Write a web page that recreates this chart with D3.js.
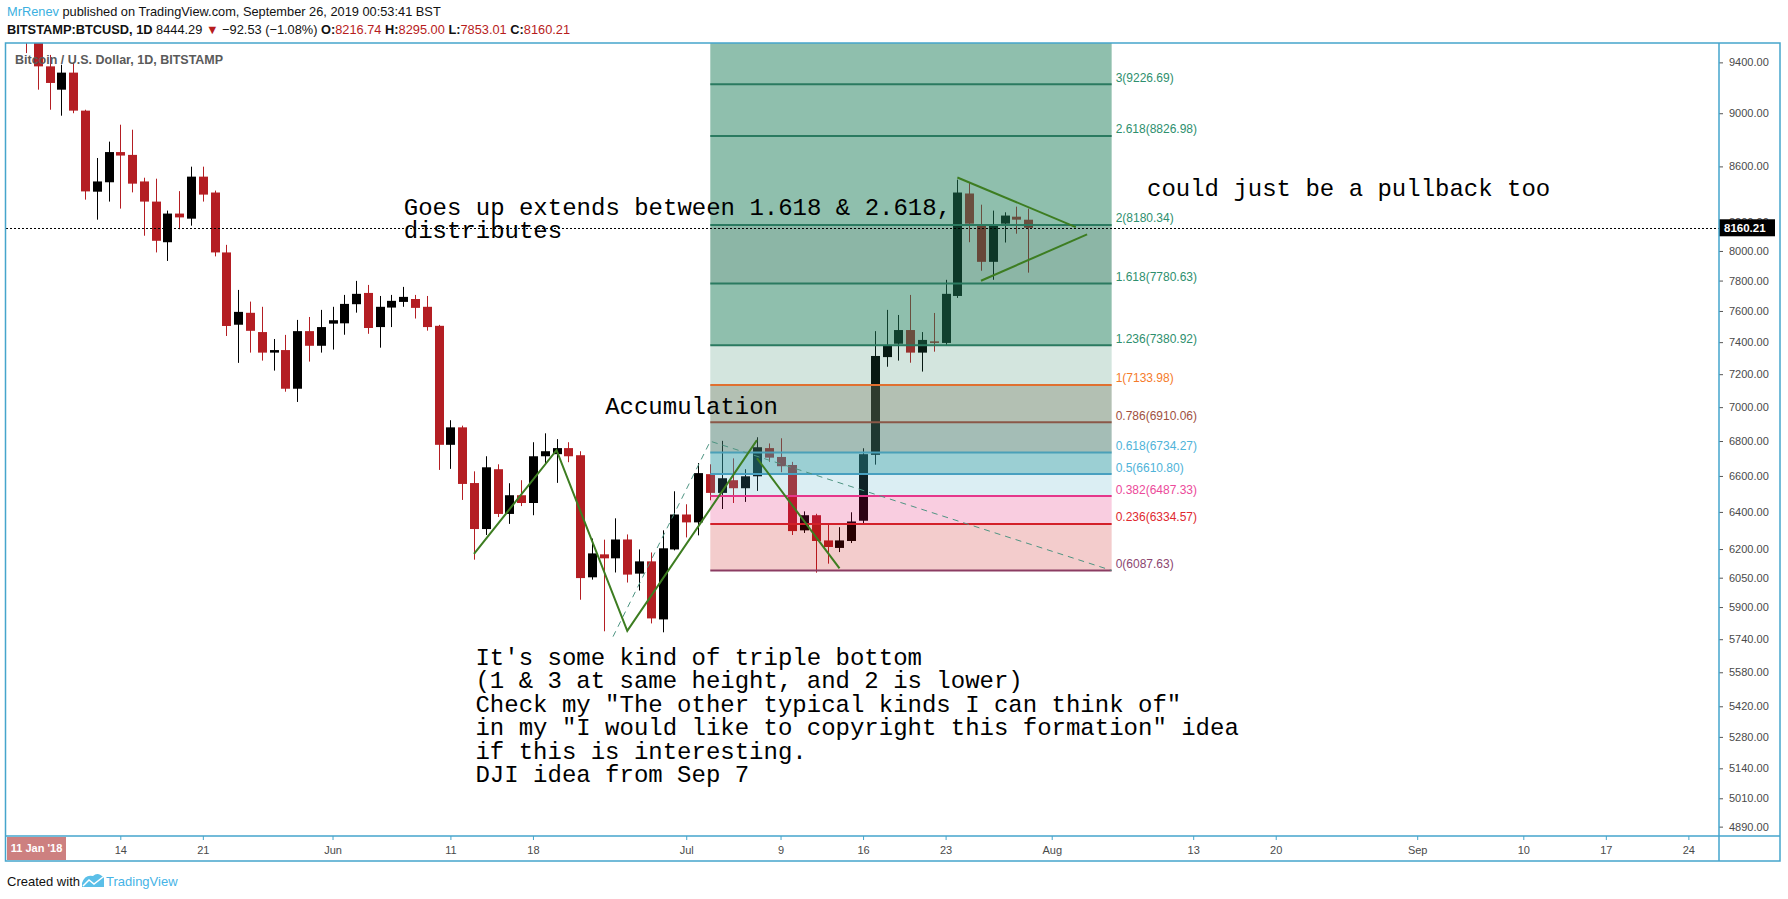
<!DOCTYPE html>
<html>
<head>
<meta charset="utf-8">
<script src="https://cdn.jsdelivr.net/npm/d3@7"></script>
<style>
  body { margin: 0; background: #fff; }
  svg { display: block; }
  .ui { font-family: "Liberation Sans", Arial, sans-serif; }
  .note { font-family: "Courier New", "Liberation Mono", monospace; font-size: 24px; fill: #000; }
</style>
</head>
<body>
<svg id="chart" width="1788" height="899"></svg>
<script>
// BTCUSD daily candles, Bitstamp, May - July 2018
const dates = [
  "2018-05-06","2018-05-07","2018-05-08","2018-05-09","2018-05-10","2018-05-11","2018-05-12","2018-05-13","2018-05-14","2018-05-15",
  "2018-05-16","2018-05-17","2018-05-18","2018-05-19","2018-05-20","2018-05-21","2018-05-22","2018-05-23","2018-05-24","2018-05-25",
  "2018-05-26","2018-05-27","2018-05-28","2018-05-29","2018-05-30","2018-05-31",
  "2018-06-01","2018-06-02","2018-06-03","2018-06-04","2018-06-05","2018-06-06","2018-06-07","2018-06-08","2018-06-09","2018-06-10",
  "2018-06-11","2018-06-12","2018-06-13","2018-06-14","2018-06-15","2018-06-16","2018-06-17","2018-06-18","2018-06-19","2018-06-20",
  "2018-06-21","2018-06-22","2018-06-23","2018-06-24","2018-06-25","2018-06-26","2018-06-27","2018-06-28","2018-06-29","2018-06-30",
  "2018-07-01","2018-07-02","2018-07-03","2018-07-04","2018-07-05","2018-07-06","2018-07-07","2018-07-08","2018-07-09","2018-07-10",
  "2018-07-11","2018-07-12","2018-07-13","2018-07-14","2018-07-15","2018-07-16","2018-07-17","2018-07-18","2018-07-19","2018-07-20",
  "2018-07-21","2018-07-22","2018-07-23","2018-07-24","2018-07-25","2018-07-26","2018-07-27","2018-07-28","2018-07-29","2018-07-30"
];
const open = [
  9700,9590,9368,9183,9318,9020,8416,8484,8706,8685, 8490,8345,8060,8260,8224,8525,8410,7990,7511,7588, 7464,7334,7350,7111,7470,7377,
  7518,7520,7644,7718,7496,7622,7659,7678,7627,7504, 6778,6880,6560,6307,6638,6389,6492,6449,6712,6724, 6759,6718,6052,6172,6151,6251,6071,6135,5838,6198,
  6386,6343,6610,6505,6576,6531,6598,6759,6708,6662, 6300,6382,6246,6206,6243,6352,6720,7306,7390,7477, 7334,7405,7395,7698,8403,8182,7926,8189,8238,8216.74
];
const high = [
  9760,9680,9460,9381,9400,9027,8662,8784,8912,8874, 8517,8510,8281,8420,8598,8598,8424,8042,7738,7661, 7627,7420,7446,7542,7561,7607,
  7627,7705,7798,7771,7698,7705,7758,7705,7698,7510, 6922,6890,6626,6712,6666,6559,6576,6793,6845,6811, 6793,6741,6256,6250,6365,6278,6198,6182,6300,6514,
  6442,6673,6666,6801,6700,6638,6822,6786,6816,6680, 6403,6390,6337,6317,6398,6758,7470,7607,7574,7705, 7464,7587,7805,8503,8483,8323,8281,8269,8309,8295.00
];
const low = [
  9475,9183,9027,8981,9000,8359,8217,8345,8295,8411, 8105,7990,7932,8150,8175,8345,7963,7439,7270,7334, 7284,7222,7093,7031,7278,7334,
  7353,7447,7589,7453,7365,7496,7627,7551,7473,6634, 6640,6466,6144,6275,6372,6335,6432,6382,6670,6561, 6678,5937,6040,5779,6077,6025,5984,5818,5774,6193,
  6262,6273,6464,6416,6449,6455,6516,6680,6621,6275, 6286,6076,6123,6184,6232,6337,6664,7246,7284,7271, 7216,7340,7377,7685,8060,7866,7805,8058,8119,7853.01
];
const close = [
  9590,9368,9236,9318,9020,8418,8490,8706,8680,8474, 8345,8070,8260,8233,8525,8395,7990,7503,7594,7472, 7334,7350,7111,7470,7377,7496,
  7540,7646,7712,7490,7627,7666,7692,7620,7496,6778, 6880,6555,6307,6649,6389,6492,6449,6712,6741,6759, 6712,6048,6177,6151,6251,6066,6135,5843,6204,6386,
  6343,6616,6505,6587,6531,6598,6764,6704,6655,6296, 6382,6243,6211,6246,6348,6724,7313,7377,7477,7334, 7414,7395,7712,8410,8189,7926,8182,8246,8217,8160.21
];
const lastPrice = 8160.21;

// fib extension levels
const fibRatios = [0, 0.236, 0.382, 0.5, 0.618, 0.786, 1, 1.236, 1.618, 2, 2.618, 3];
const fibPrices = [6087.63, 6334.57, 6487.33, 6610.80, 6734.27, 6910.06, 7133.98, 7380.92, 7780.63, 8180.34, 8826.98, 9226.69];
const fibTopPrice = 9873.32; // 3.618, off the top of the chart
const fibPoints = [["2018-06-24T19:00", 5752.65], ["2018-07-03T01:00", 6798.98], ["2018-08-06T02:00", 6087.63]];

// hand drawn lines
const tripleBottom = [["2018-06-13", 6175], ["2018-06-20", 6747], ["2018-06-26", 5781], ["2018-07-07", 6805]];
const pullback = [["2018-07-07", 6701], ["2018-07-14", 6098]];
const triUpper = [["2018-07-24", 8519], ["2018-08-03T01:00", 8165]];
const triLower = [["2018-07-26", 7799], ["2018-08-04", 8114]];

// axis ticks
const priceTicks = [9400, 9000, 8600, 8200, 8000, 7800, 7600, 7400, 7200, 7000, 6800, 6600, 6400, 6200, 6050, 5900, 5740, 5580, 5420, 5280, 5140, 5010, 4890];
const dateTicks = ["2018-05-14","2018-05-21","2018-06-01","2018-06-11","2018-06-18","2018-07-01","2018-07-09","2018-07-16","2018-07-23","2018-08-01","2018-08-13","2018-08-20","2018-09-01","2018-09-10","2018-09-17","2018-09-24"];
const dateTickLabels = ["14","21","Jun","11","18","Jul","9","16","23","Aug","13","20","Sep","10","17","24"];

// text notes: [anchor date, baseline price, lines]
const notes = [
  ["2018-06-07T01:00", 8252, ["Goes up extends between 1.618 & 2.618,", "distributes"]],
  ["2018-08-09T02:00", 8383, ["could just be a pullback too"]],
  ["2018-06-24T03:00", 6960, ["Accumulation"]],
  ["2018-06-13T03:00", 5615, ["It's some kind of triple bottom",
                              "(1 & 3 at same height, and 2 is lower)",
                              "Check my \"The other typical kinds I can think of\"",
                              "in my \"I would like to copyright this formation\" idea",
                              "if this is interesting.",
                              "DJI idea from Sep 7"]]
];

const parse = s => new Date(s.length > 10 ? s + ":00Z" : s + "T00:00:00Z");

// Layout
const plot = { left: 6, top: 43, right: 1719, bottom: 836 };
const axisRight = 1780, axisBottom = 861;
const frameColor = "#45a5cc";
const upColor = "#000000", downColor = "#b41e23";

const svg = d3.select("#chart");

const x = d3.scaleUtc()
  .domain([parse("2018-05-14"), parse("2018-09-24")])
  .range([120.3, 120.3 + 133 * 11.79]);
const y = d3.scaleLog()
  .domain([4851, 9557])
  .range([plot.bottom, plot.top]);

svg.append("defs").append("clipPath").attr("id", "plotClip")
  .append("rect")
  .attr("x", plot.left).attr("y", plot.top)
  .attr("width", plot.right - plot.left).attr("height", plot.bottom - plot.top);

const g = svg.append("g").attr("clip-path", "url(#plotClip)");

// Candles
const candles = dates.map((d, i) => ({ date: parse(d), o: open[i], h: high[i], l: low[i], c: close[i] }));
const bodyW = 9;
const cg = g.append("g");
cg.selectAll("line.wick").data(candles).enter().append("line")
  .attr("class", "wick")
  .attr("x1", d => Math.round(x(d.date)) + 0.5)
  .attr("x2", d => Math.round(x(d.date)) + 0.5)
  .attr("y1", d => y(d.h))
  .attr("y2", d => y(d.l))
  .attr("stroke", d => d.c >= d.o ? upColor : downColor)
  .attr("stroke-width", 1);
cg.selectAll("rect.body").data(candles).enter().append("rect")
  .attr("class", "body")
  .attr("x", d => Math.round(x(d.date)) + 0.5 - bodyW / 2)
  .attr("width", bodyW)
  .attr("y", d => y(Math.max(d.o, d.c)))
  .attr("height", d => Math.max(1, y(Math.min(d.o, d.c)) - y(Math.max(d.o, d.c))))
  .attr("fill", d => d.c >= d.o ? upColor : downColor);

// Fib extension zones
const fx0 = x(parse(fibPoints[1][0])), fx1 = x(parse(fibPoints[2][0]));
const bandFill = ["rgb(195,0,0)", "rgb(225,5,100)", "rgb(75,170,195)", "rgb(51,157,165)", "rgb(65,117,103)", "rgb(97,124,97)",
                  "rgb(35,125,90)", "rgb(31,127,91)", "rgb(25,109,77)", "rgb(31,127,91)", "rgb(31,127,91)", "rgb(31,127,91)"];
const bandAlpha = [0.2, 0.2, 0.2, 0.49, 0.48, 0.48, 0.2, 0.5, 0.5, 0.5, 0.5, 0.5];
const lineColor = ["#8b3c62", "#d3202a", "#e5368a", "#48a0c0", "#4aa0b8", "#8a5848", "#e07030",
                   "#2a7a60", "#2a7a60", "#2a7a60", "#2a7a60", "#2a7a60"];
const labelColor = ["#8c4670", "#e0282e", "#ec4a9a", "#4fb3d9", "#4fb3d9", "#a0503f", "#f57b2a",
                    "#2e8f6e", "#2e8f6e", "#2e8f6e", "#2e8f6e", "#2e8f6e"];
const bandTops = fibPrices.slice(1).concat([fibTopPrice]);
const fg = g.append("g");
fg.selectAll("rect.band").data(fibPrices).enter().append("rect")
  .attr("class", "band")
  .attr("x", fx0).attr("width", fx1 - fx0)
  .attr("y", (p, i) => y(bandTops[i]))
  .attr("height", (p, i) => y(p) - y(bandTops[i]))
  .attr("fill", (p, i) => bandFill[i])
  .attr("fill-opacity", (p, i) => bandAlpha[i]);
fg.selectAll("line.lvl").data(fibPrices).enter().append("line")
  .attr("class", "lvl")
  .attr("x1", fx0).attr("x2", fx1)
  .attr("y1", p => y(p)).attr("y2", p => y(p))
  .attr("stroke", (p, i) => lineColor[i])
  .attr("stroke-width", 2);
fg.selectAll("text.lvl").data(fibPrices).enter().append("text")
  .attr("class", "lvl ui")
  .attr("x", fx1 + 4)
  .attr("y", p => y(p) - 2.5)
  .attr("font-size", 12)
  .attr("fill", (p, i) => labelColor[i])
  .text((p, i) => fibRatios[i] + "(" + p.toFixed(2) + ")");

// fib trend (dashed)
const ptLine = d3.line().x(d => x(parse(d[0]))).y(d => y(d[1]));
g.append("path")
  .attr("d", ptLine(fibPoints))
  .attr("fill", "none")
  .attr("stroke", "#4e9482")
  .attr("stroke-width", 1)
  .attr("stroke-dasharray", "6,5");

// hand drawn green lines
[tripleBottom, pullback, triUpper, triLower].forEach(pts => {
  g.append("path")
    .attr("d", ptLine(pts))
    .attr("fill", "none")
    .attr("stroke", "#3d7d21")
    .attr("stroke-width", 2);
});

// last price dotted line
g.append("line")
  .attr("x1", plot.left).attr("x2", plot.right)
  .attr("y1", Math.round(y(lastPrice)) + 0.5).attr("y2", Math.round(y(lastPrice)) + 0.5)
  .attr("stroke", "#000")
  .attr("stroke-width", 1)
  .attr("stroke-dasharray", "2,2");

// notes
notes.forEach(n => {
  const t = g.append("text")
    .attr("class", "note")
    .attr("x", x(parse(n[0])))
    .attr("y", y(n[1]))
    .attr("xml:space", "preserve");
  n[2].forEach((line, i) => {
    t.append("tspan")
      .attr("x", x(parse(n[0])))
      .attr("dy", i === 0 ? 0 : 23.5)
      .text(line);
  });
});

// series legend
svg.append("text")
  .attr("class", "ui")
  .attr("x", 15).attr("y", 64)
  .attr("font-size", 12.5).attr("font-weight", "bold")
  .attr("fill", "#5a5a5a")
  .text("Bitcoin / U.S. Dollar, 1D, BITSTAMP");

// Price axis
const yAxis = svg.append("g")
  .attr("class", "ui")
  .attr("transform", `translate(${plot.right},0)`)
  .call(d3.axisRight(y).tickValues(priceTicks).tickFormat(d3.format(".2f")).tickSize(4).tickPadding(6));
yAxis.select(".domain").remove();
yAxis.selectAll("line").attr("stroke", "#555");
yAxis.selectAll("text").attr("fill", "#4a4a4a").attr("font-size", 11)
  .attr("font-family", "'Liberation Sans', Arial, sans-serif");

// last price tag
const tagY = y(lastPrice);
svg.append("rect")
  .attr("x", plot.right).attr("y", tagY - 8.5)
  .attr("width", 56).attr("height", 17)
  .attr("fill", "#000");
svg.append("text")
  .attr("class", "ui")
  .attr("x", plot.right + 5).attr("y", tagY + 4)
  .attr("font-size", 11.5).attr("font-weight", "bold")
  .attr("fill", "#fff")
  .text(lastPrice.toFixed(2));

// Time axis
const xAxis = svg.append("g")
  .attr("transform", `translate(0,${plot.bottom})`)
  .call(d3.axisBottom(x).tickValues(dateTicks.map(parse)).tickFormat((d, i) => dateTickLabels[i]).tickSize(4).tickPadding(6));
xAxis.select(".domain").remove();
xAxis.selectAll("line").attr("stroke", frameColor);
xAxis.selectAll("text").attr("fill", "#4a4a4a").attr("font-size", 11)
  .attr("font-family", "'Liberation Sans', Arial, sans-serif");

// crosshair date tag
svg.append("rect")
  .attr("x", 7).attr("y", plot.bottom + 1)
  .attr("width", 59).attr("height", axisBottom - plot.bottom - 2)
  .attr("fill", "#cd8080");
svg.append("text")
  .attr("class", "ui")
  .attr("x", 36.5).attr("y", plot.bottom + 16)
  .attr("text-anchor", "middle")
  .attr("font-size", 11).attr("font-weight", "bold")
  .attr("fill", "#fff")
  .text("11 Jan '18");

// frame
const frame = svg.append("g").attr("fill", "none").attr("stroke", frameColor).attr("stroke-width", 1.5);
frame.append("rect")
  .attr("x", plot.left - 0.5).attr("y", plot.top)
  .attr("width", axisRight - plot.left + 0.5).attr("height", axisBottom - plot.top);
frame.append("line").attr("x1", plot.right).attr("x2", plot.right).attr("y1", plot.top).attr("y2", axisBottom);
frame.append("line").attr("x1", plot.left).attr("x2", axisRight).attr("y1", plot.bottom).attr("y2", plot.bottom);

// header
const h1 = svg.append("text").attr("class", "ui").attr("x", 7).attr("y", 16).attr("font-size", 12.8);
h1.append("tspan").attr("fill", "#3cb0e0").text("MrRenev");
h1.append("tspan").attr("fill", "#111").text(" published on TradingView.com, September 26, 2019 00:53:41 BST");

const red = "#b71c1c";
const h2 = svg.append("text").attr("class", "ui").attr("x", 7).attr("y", 34).attr("font-size", 12.8).attr("fill", "#111");
h2.append("tspan").attr("font-weight", "bold").text("BITSTAMP:BTCUSD, 1D");
h2.append("tspan").text("  8444.29 ");
h2.append("tspan").attr("fill", red).text("\u25BC");
h2.append("tspan").text(" \u221292.53 (\u22121.08%) ");
[["O:", "8216.74"], ["H:", "8295.00"], ["L:", "7853.01"], ["C:", "8160.21"]].forEach((p, i) => {
  h2.append("tspan").attr("font-weight", "bold").text((i ? " " : "") + p[0]);
  h2.append("tspan").attr("fill", red).text(p[1]);
});

// footer
const foot = svg.append("g").attr("class", "ui");
foot.append("text").attr("x", 7).attr("y", 886).attr("font-size", 13).attr("fill", "#111").text("Created with");
foot.append("path")
  .attr("d", "M82,887 L82,883 Q85,874 93,876 Q98,871 104,878 L104,887 Z")
  .attr("fill", "#5bbfe8");
foot.append("path")
  .attr("d", "M83,886 L89,880 L94,884 L103,877")
  .attr("fill", "none").attr("stroke", "#fff").attr("stroke-width", 1.5);
foot.append("text").attr("x", 106).attr("y", 886).attr("font-size", 13).attr("fill", "#46b3e6").text("TradingView");
</script>
</body>
</html>
